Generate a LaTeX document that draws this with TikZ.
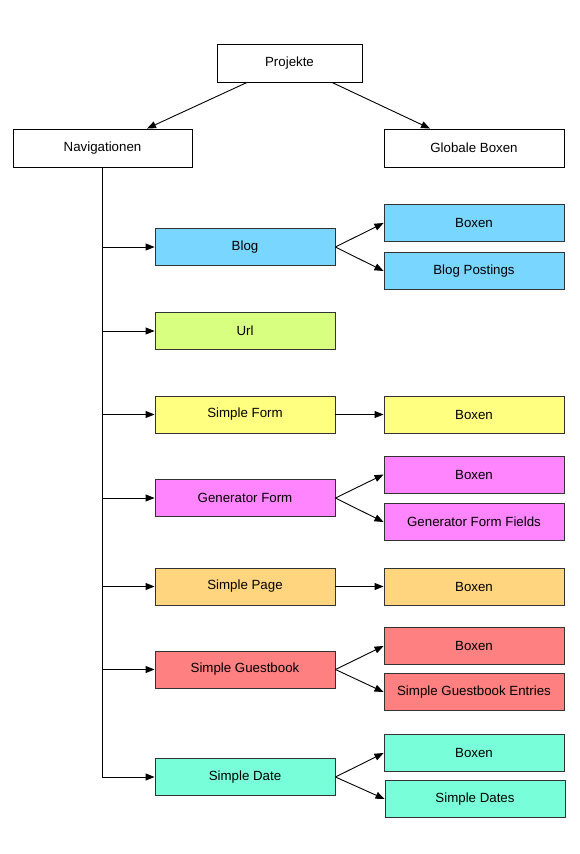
\documentclass[tikz,border=0pt]{standalone}
\usepackage{fontspec}
\setmainfont{Liberation Sans}
\usetikzlibrary{arrows.meta,calc}
\definecolor{cblue}{HTML}{78D6FF}
\definecolor{curl}{HTML}{D9FF80}
\definecolor{cyellow}{HTML}{FFFF80}
\definecolor{cmagenta}{HTML}{FF85FF}
\definecolor{corange}{HTML}{FFD580}
\definecolor{cred}{HTML}{FF8080}
\definecolor{cteal}{HTML}{78FFD9}
\definecolor{cborder}{HTML}{333333}
\tikzset{
  topbox/.style={draw=black,fill=white,line width=0.9pt,minimum height=38pt,inner sep=0pt,font=\fontsize{13.3}{15}\selectfont},
  colbox/.style={draw=cborder,line width=0.9pt,minimum width=180pt,minimum height=37pt,inner sep=0pt,font=\fontsize{13.3}{15}\selectfont},
  conn/.style={draw=black,line width=0.9pt,-{Triangle[length=9pt,width=7pt]}},
  trunk/.style={draw=black,line width=0.9pt}
}
\begin{document}
\begin{tikzpicture}[x=1pt,y=-1pt]
\useasboundingbox (0,0) rectangle (580,854);
% top level
\node[topbox,minimum width=145pt] (proj) at (289.5,63) {Projekte};
\node[topbox,minimum width=179pt] (nav) at (102.5,148) {Navigationen};
\node[topbox,minimum width=180pt] (glob) at (474,148) {Globale Boxen};
% middle column
\node[colbox,fill=cblue] (blog) at (245,247) {Blog};
\node[colbox,fill=curl] (url) at (245,331) {Url};
\node[colbox,fill=cyellow] (sform) at (245,414.5) {Simple Form};
\node[colbox,fill=cmagenta] (gform) at (245,498) {Generator Form};
\node[colbox,fill=corange] (spage) at (245,586.5) {Simple Page};
\node[colbox,fill=cred] (sguest) at (245,669.5) {Simple Guestbook};
\node[colbox,fill=cteal] (sdate) at (245,777) {Simple Date};
% right column
\node[colbox,fill=cblue] (blogbox) at (474,223) {Boxen};
\node[colbox,fill=cblue] (blogpost) at (474,271) {Blog Postings};
\node[colbox,fill=cyellow] (sfbox) at (474,414.5) {Boxen};
\node[colbox,fill=cmagenta] (gfbox) at (474,474.5) {Boxen};
\node[colbox,fill=cmagenta] (gffields) at (474,522) {Generator Form Fields};
\node[colbox,fill=corange] (spbox) at (474,586.5) {Boxen};
\node[colbox,fill=cred] (sgbox) at (474,646) {Boxen};
\node[colbox,fill=cred] (sgentries) at (474,692) {Simple Guestbook Entries};
\node[colbox,fill=cteal] (sdbox) at (474,753) {Boxen};
\node[colbox,fill=cteal] (sddates) at (475,799) {Simple Dates};
% top connectors
\draw[conn] ($(proj.south)+(-42.5,0)$) -- ($(nav.north)+(44.5,0)$);
\draw[conn] ($(proj.south)+(42.5,0)$) -- ($(glob.north)+(-44,0)$);
% trunk
\draw[conn] (nav.south) |- (sdate.west);
\foreach \n in {blog,url,sform,gform,spage,sguest}{
  \draw[conn] (nav.south |- \n.west) -- (\n.west);
}
% right connectors
\draw[conn] (blog.east) -- (blogbox.west);
\draw[conn] (blog.east) -- (blogpost.west);
\draw[conn] (sform.east) -- (sfbox.west);
\draw[conn] (gform.east) -- (gfbox.west);
\draw[conn] (gform.east) -- (gffields.west);
\draw[conn] (spage.east) -- (spbox.west);
\draw[conn] (sguest.east) -- (sgbox.west);
\draw[conn] (sguest.east) -- (sgentries.west);
\draw[conn] (sdate.east) -- (sdbox.west);
\draw[conn] (sdate.east) -- (sddates.west);
\end{tikzpicture}
\end{document}
